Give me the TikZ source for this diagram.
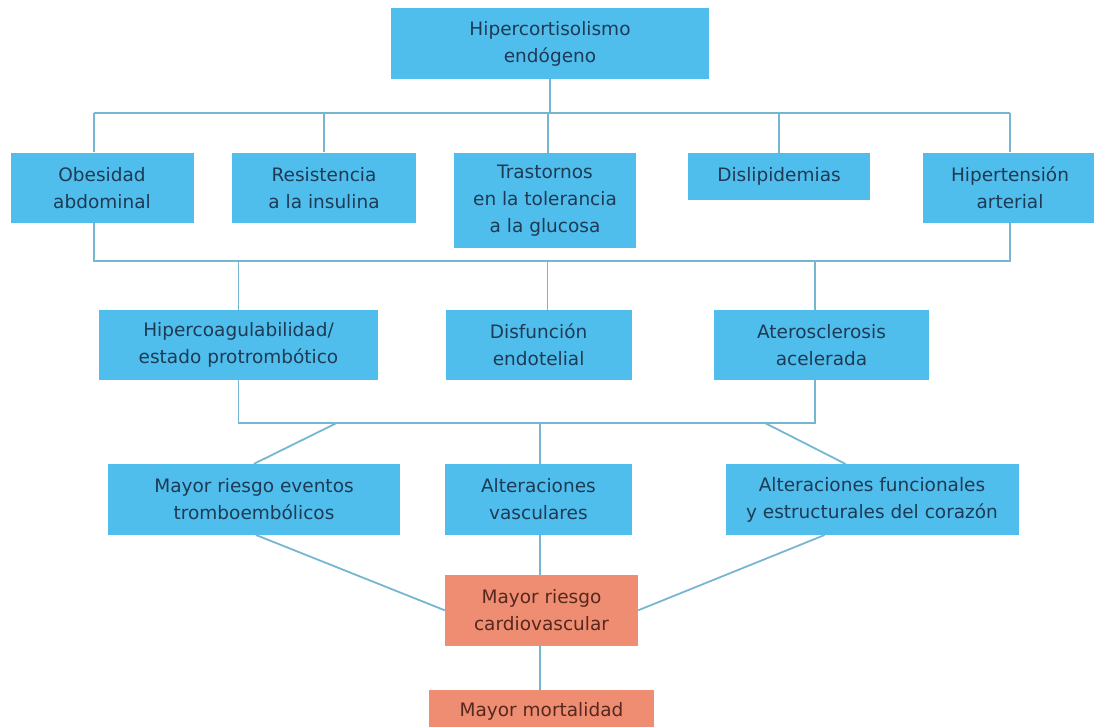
\documentclass[tikz,border=0pt]{standalone}
\usepackage{fontspec}
\setmainfont{DejaVu Sans}
\usepackage{tikz}

\definecolor{boxblue}{RGB}{80,190,236}
\definecolor{boxorange}{RGB}{238,141,114}
\definecolor{txtblue}{RGB}{30,58,84}
\definecolor{txtbrown}{RGB}{86,40,30}
\definecolor{linecol}{RGB}{118,182,210}

\begin{document}
\begin{tikzpicture}[x=1pt, y=-1pt, font=\fontsize{18.5}{27}\selectfont,
    box/.style = {fill=boxblue, text=txtblue, align=center, inner sep=0pt, minimum height=70pt},
    risk/.style = {box, fill=boxorange, text=txtbrown},
    link/.style = {draw=linecol, line width=1.8pt}]
    \useasboundingbox (0,0) rectangle (1094,727);
    % causa
    \node[box, minimum width=318pt, minimum height=71pt] (top) at (550,43.8) {Hipercortisolismo\\endógeno};
    % alteraciones metabolicas
    \node[box, minimum width=183pt] (obes) at (102,187.7) {Obesidad\\abdominal};
    \node[box, minimum width=184pt] (resist) at (324,187.7) {Resistencia\\a la insulina};
    \node[box, minimum width=182pt, minimum height=95pt] (trast) at (545,200.3) {Trastornos\\en la tolerancia\\a la glucosa};
    \node[box, minimum width=182pt, minimum height=47pt] (disli) at (779,176.3) {Dislipidemias};
    \node[box, minimum width=174pt] (hiper) at (1010,187.7) {Hipertensión\\arterial};
    % mecanismos
    \node[box, minimum width=279pt] (coag) at (238.5,345) {Hipercoagulabilidad/\\estado protrombótico};
    \node[box, minimum width=186pt] (disf) at (538.6,345) {Disfunción\\endotelial};
    \node[box, minimum width=215pt] (ater) at (821.5,345) {Aterosclerosis\\acelerada};
    % consecuencias
    \node[box, minimum width=292pt, minimum height=71pt] (event) at (254,499.5) {Mayor riesgo eventos\\tromboembólicos};
    \node[box, minimum width=187pt, minimum height=71pt] (vasc) at (538.4,499.5) {Alteraciones\\vasculares};
    \node[box, minimum width=293pt, minimum height=71pt] (heart) at (872,499.5) {Alteraciones funcionales\\y estructurales del corazón};
    \node[risk, minimum width=193pt, minimum height=71pt] (cardio) at (541.5,610.3) {Mayor riesgo\\cardiovascular};
    \node[risk, minimum width=225pt, minimum height=42pt] (mort) at (541.5,711) {Mayor mortalidad};
    % puntos de las barras
    \coordinate (b1w) at (94,113);
    \coordinate (b1e) at (1010,113);
    \coordinate (b2w) at (94,261);
    \coordinate (b2e) at (1010,261);
    \coordinate (b2c) at (547.5,261);
    \coordinate (b2r) at (815,261);
    \coordinate (b3w) at (238.5,423);
    \coordinate (b3e) at (815,423);
    \coordinate (b3c) at (540,423);
    \coordinate (b3l) at (336.7,423);
    \coordinate (b3r) at (765,423);
    \coordinate (evs) at (256,535);
    \coordinate (hts) at (824.6,535);
    \coordinate (htn) at (845.6,464);
    \draw[link] (b1w) -- (b1e);
    \draw[link] (top) -- (top |- b1w);
    \draw[link] (b1w) -- (b1w |- obes.north);
    \draw[link] (resist.north) -- (resist |- b1w);
    \draw[link] (trast.north) ++(3,0) -- ++(0,-39.7);
    \draw[link] (disli.north) -- (disli |- b1w);
    \draw[link] (b1e) -- (hiper.north);
    \draw[link] (obes.south -| b2w) -- (b2w) -- (b2e) -- (hiper.south);
    \draw[link] (coag.north) -- (coag |- b2w);
    \draw[link] (b2c) -- (b2c |- disf.north);
    \draw[link] (b2r) -- (b2r |- ater.north);
    \draw[link] (coag.south) -- (b3w) -- (b3e) -- (b3e |- ater.south);
    \draw[link] (b3l) -- (event.north);
    \draw[link] (b3c) -- (b3c |- vasc.north);
    \draw[link] (b3r) -- (htn);
    \draw[link] (evs) -- (cardio.west);
    \draw[link] (hts) -- (cardio.east);
    \draw[link] (vasc.south -| b3c) -- (b3c |- cardio.north);
    \draw[link] (cardio.south -| b3c) -- (b3c |- mort.north);
\end{tikzpicture}
\end{document}
